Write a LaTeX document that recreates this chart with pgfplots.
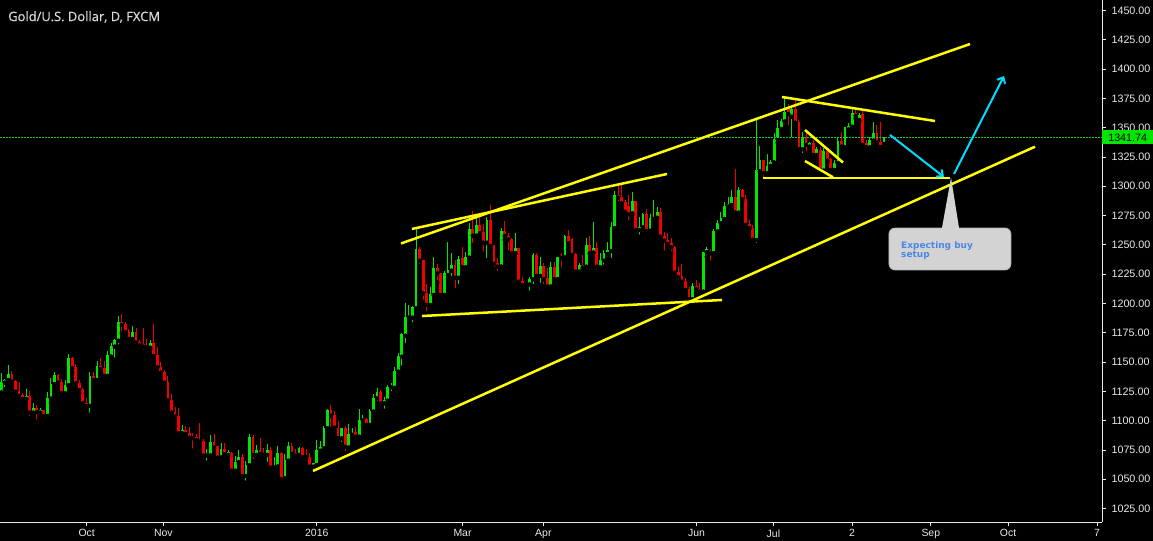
\documentclass[border=0pt]{standalone}
\usepackage{pgfplots}
\pgfplotsset{compat=1.18}
\usepackage{pgfplotstable}
\usetikzlibrary{arrows.meta}
\usepackage{fontspec}
\setmainfont{Liberation Sans}
\newfontfamily\titlefont[FakeBold=0.5]{Open Sans}
\newfontfamily\boxfont{DejaVu Sans}
\definecolor{cgreen}{RGB}{0,230,0}
\definecolor{cred}{RGB}{240,0,0}
\definecolor{cyel}{RGB}{255,255,0}
\definecolor{ccyan}{RGB}{0,220,255}
\definecolor{cbox}{RGB}{211,211,211}
\definecolor{cboxtext}{RGB}{74,134,232}
\definecolor{cdot}{RGB}{30,200,30}
\definecolor{caxis}{RGB}{232,232,232}

\pgfplotsset{
  frame/.style={
    at={(0bp,19bp)}, anchor=south west,
    scale only axis, width=1102bp, height=522bp,
    xmin=0.633, xmax=311.49, ymin=1013.56, ymax=1458.96,
    clip=false,
  }
}

\pgfplotstableread{
n o h l c
1 1123.9 1140.4 1123.9 1133.3
2 1132.5 1135.3 1126.8 1134.7
3 1134.7 1147.5 1133.3 1139.9
8 1118.5 1127.1 1118.5 1121.1
10 1106.9 1114.8 1104.0 1111.1
12 1106.9 1111.1 1104.9 1109.1
14 1104.0 1124.5 1104.0 1119.4
15 1118.8 1136.2 1115.4 1131.3
16 1131.3 1141.9 1128.5 1139.0
19 1123.4 1134.7 1121.9 1130.2
20 1130.2 1156.9 1129.6 1153.5
26 1112.6 1141.6 1105.2 1138.2
28 1134.7 1150.7 1134.7 1146.7
31 1138.2 1159.8 1138.2 1156.1
32 1154.7 1166.0 1151.8 1163.8
33 1163.2 1169.5 1152.0 1168.9
34 1168.3 1189.3 1163.2 1183.9
38 1169.7 1180.8 1167.5 1175.4
43 1162.3 1168.9 1160.9 1166.6
52 1089.2 1096.4 1089.2 1092.1
59 1070.2 1075.9 1064.2 1070.8
60 1070.2 1087.8 1070.2 1081.6
63 1068.5 1080.7 1068.5 1075.9
65 1070.8 1075.0 1069.3 1073.0
67 1057.4 1069.9 1054.3 1064.5
68 1064.5 1075.0 1063.1 1068.8
70 1052.8 1065.4 1047.1 1061.9
71 1061.9 1088.7 1059.4 1086.1
73 1070.8 1079.3 1068.5 1075.0
76 1070.8 1080.1 1063.1 1075.0
78 1059.9 1068.8 1058.8 1061.4
79 1060.8 1078.4 1060.8 1072.2
81 1050.6 1071.6 1050.6 1066.5
82 1065.9 1082.1 1063.6 1078.4
85 1070.8 1077.9 1069.3 1076.4
89 1060.8 1064.2 1057.9 1063.6
90 1062.2 1083.6 1062.2 1075.0
91 1074.4 1082.9 1073.5 1077.2
92 1076.4 1095.4 1075.5 1094.0
93 1093.5 1110.0 1092.0 1109.1
97 1084.9 1094.0 1080.1 1094.0
99 1077.2 1096.9 1076.4 1088.3
100 1087.8 1094.0 1086.9 1089.2
102 1086.3 1110.0 1086.3 1100.6
103 1100.0 1104.8 1096.3 1101.4
105 1096.3 1109.7 1096.3 1108.5
106 1107.7 1122.7 1107.7 1119.6
107 1119.0 1127.6 1115.4 1124.7
109 1114.8 1119.9 1108.5 1117.6
110 1117.1 1130.4 1115.6 1129.0
111 1128.4 1131.8 1123.3 1129.6
112 1128.1 1146.1 1124.7 1142.4
113 1141.8 1157.4 1141.8 1155.5
114 1154.6 1174.5 1145.2 1173.7
115 1172.5 1200.7 1164.6 1188.7
116 1187.9 1198.7 1185.9 1188.9
117 1187.9 1197.8 1182.2 1197.3
118 1195.8 1263.2 1195.3 1246.5
122 1198.7 1213.8 1195.0 1208.1
123 1207.2 1239.4 1207.2 1230.3
126 1207.2 1227.7 1207.2 1225.7
127 1224.3 1252.8 1220.6 1228.6
128 1228.0 1243.4 1221.5 1232.8
130 1222.0 1240.5 1214.9 1238.0
132 1230.9 1244.2 1229.1 1239.4
133 1239.1 1269.0 1237.1 1263.6
135 1257.9 1272.7 1257.0 1267.0
138 1251.9 1274.1 1237.1 1271.2
142 1231.4 1264.1 1231.4 1262.1
146 1242.8 1260.4 1242.8 1247.1
149 1215.8 1217.8 1214.4 1217.2
150 1216.3 1222.9 1209.2 1220.6
151 1220.6 1242.8 1214.9 1241.4
153 1223.5 1239.4 1215.8 1232.0
156 1214.4 1235.7 1214.4 1230.9
158 1220.6 1240.0 1220.6 1239.4
160 1239.1 1258.4 1239.1 1257.9
164 1227.2 1234.3 1225.7 1232.8
166 1231.4 1255.6 1227.7 1249.9
168 1243.4 1269.8 1243.4 1247.6
170 1230.9 1242.8 1229.1 1237.1
171 1236.5 1245.6 1231.4 1242.8
172 1242.2 1252.8 1238.5 1245.6
173 1244.8 1269.8 1237.1 1265.0
174 1264.1 1296.3 1264.1 1292.6
179 1276.9 1295.4 1275.5 1287.4
181 1262.7 1274.1 1257.0 1265.0
182 1265.0 1277.5 1264.1 1276.4
184 1262.1 1276.4 1261.3 1272.7
185 1272.1 1288.3 1270.7 1274.1
186 1273.2 1282.0 1272.7 1278.3
196 1203.6 1217.2 1203.0 1214.9
199 1210.1 1244.3 1208.2 1243.7
200 1243.7 1248.5 1240.0 1246.3
202 1242.8 1263.3 1242.8 1261.9
203 1261.3 1271.3 1261.3 1268.4
204 1268.4 1278.4 1267.9 1272.7
205 1272.1 1286.9 1271.3 1283.2
206 1282.7 1291.2 1282.1 1284.6
207 1284.1 1296.9 1282.7 1290.6
209 1277.5 1299.2 1276.4 1296.9
214 1254.2 1357.2 1249.9 1313.9
215 1312.5 1334.4 1312.5 1322.5
217 1311.1 1327.6 1310.5 1317.4
218 1317.4 1322.5 1316.2 1321.1
219 1320.2 1345.2 1320.2 1340.1
220 1340.1 1356.6 1337.3 1349.5
221 1348.9 1357.2 1346.6 1355.8
222 1355.2 1375.1 1355.2 1363.7
224 1359.4 1368.0 1340.0 1366.0
227 1331.6 1346.6 1326.7 1342.4
229 1333.9 1338.1 1331.6 1337.3
231 1326.7 1333.9 1325.3 1331.6
233 1313.4 1332.4 1312.5 1330.4
236 1313.9 1322.5 1313.4 1320.2
237 1319.6 1341.0 1319.1 1339.0
239 1333.3 1350.9 1332.4 1350.3
240 1348.6 1353.8 1347.2 1351.5
241 1350.9 1366.6 1350.3 1362.9
243 1356.6 1362.3 1355.2 1360.9
246 1333.3 1342.4 1331.6 1339.5
247 1339.0 1355.2 1338.1 1345.2
250 1336.1 1342.4 1335.3 1341.7
}\up

\pgfplotstableread{
n o h l c
4 1139.9 1142.4 1132.5 1133.3
5 1134.2 1134.7 1121.9 1124.8
6 1125.4 1133.3 1119.1 1121.1
7 1121.9 1123.9 1116.3 1118.5
9 1121.1 1125.4 1101.8 1106.9
11 1111.1 1113.4 1099.2 1107.2
13 1109.1 1109.1 1102.6 1104.0
17 1139.0 1139.9 1130.5 1132.5
18 1133.0 1135.9 1121.4 1123.4
21 1153.8 1154.4 1141.0 1144.7
22 1145.8 1148.1 1130.5 1131.9
23 1131.9 1134.7 1123.4 1126.2
24 1127.1 1127.6 1112.0 1114.8
25 1115.4 1119.1 1111.4 1112.6
27 1138.2 1141.6 1131.0 1134.7
29 1146.7 1153.2 1141.3 1144.1
30 1144.7 1151.0 1137.0 1138.2
35 1183.9 1191.1 1174.6 1181.7
36 1182.2 1183.9 1174.6 1175.4
37 1176.6 1178.3 1168.9 1169.7
39 1175.4 1179.1 1163.2 1166.6
40 1167.5 1168.9 1161.8 1164.3
41 1165.5 1179.1 1158.9 1163.2
42 1163.8 1169.4 1162.3 1162.3
44 1166.6 1182.5 1152.4 1155.2
45 1155.8 1163.2 1145.3 1145.3
46 1145.8 1150.1 1139.9 1141.0
47 1141.9 1143.3 1131.9 1132.5
48 1133.0 1138.2 1114.8 1117.1
49 1117.7 1122.5 1106.3 1106.9
50 1107.4 1111.4 1102.9 1103.5
51 1104.0 1110.9 1086.4 1089.2
53 1092.1 1095.5 1085.8 1088.7
54 1089.2 1094.4 1085.0 1085.5
55 1086.4 1089.8 1074.4 1085.0
56 1085.8 1088.4 1080.1 1083.6
57 1083.6 1097.8 1082.1 1082.1
58 1082.7 1084.1 1065.9 1070.2
61 1081.6 1088.7 1076.4 1077.0
62 1078.7 1078.7 1067.1 1068.5
64 1075.9 1080.7 1069.9 1071.3
66 1072.2 1073.6 1053.1 1057.4
69 1068.8 1071.6 1051.4 1052.8
72 1086.1 1087.8 1065.6 1070.8
74 1075.0 1085.0 1069.9 1071.6
75 1072.7 1076.4 1070.2 1070.8
77 1075.0 1077.9 1058.5 1059.9
80 1072.2 1073.6 1048.0 1050.0
83 1078.4 1080.7 1069.3 1071.6
84 1072.7 1075.9 1068.8 1070.2
86 1077.0 1077.9 1067.1 1068.8
87 1069.3 1075.9 1068.2 1068.8
88 1068.8 1072.2 1059.4 1060.8
94 1109.1 1113.4 1092.9 1104.3
95 1104.8 1108.2 1092.9 1094.0
96 1094.0 1099.7 1084.9 1084.9
98 1094.0 1095.7 1072.1 1077.8
101 1090.0 1094.3 1082.9 1086.3
104 1101.4 1102.6 1094.3 1096.3
108 1124.7 1126.2 1110.5 1114.8
119 1246.5 1247.9 1232.0 1236.5
120 1237.1 1237.1 1201.5 1208.6
121 1208.6 1216.6 1191.6 1198.7
124 1230.3 1233.7 1218.1 1225.7
125 1225.7 1226.3 1207.2 1207.2
129 1232.8 1237.1 1211.5 1222.0
131 1238.5 1247.9 1227.2 1230.9
134 1263.6 1278.9 1249.9 1257.9
136 1267.0 1276.9 1257.9 1259.9
137 1261.3 1267.5 1242.8 1251.9
139 1271.2 1284.0 1248.5 1249.1
140 1249.9 1249.9 1229.1 1233.7
141 1234.3 1238.5 1225.7 1231.4
143 1262.1 1270.4 1254.2 1257.6
144 1257.6 1259.9 1243.4 1254.7
145 1255.0 1255.6 1241.4 1242.8
147 1247.1 1247.6 1214.9 1218.6
148 1219.2 1222.9 1212.1 1215.8
152 1241.4 1243.4 1222.9 1223.5
154 1232.0 1234.3 1214.9 1220.6
155 1221.5 1230.0 1214.4 1214.4
157 1231.4 1235.7 1217.2 1220.6
159 1240.0 1242.8 1229.1 1238.5
161 1257.9 1262.7 1249.9 1251.3
162 1255.0 1255.6 1240.5 1241.4
163 1242.2 1242.8 1223.5 1227.2
165 1232.8 1241.4 1229.4 1230.6
167 1249.9 1257.6 1242.8 1242.8
169 1247.6 1252.8 1227.2 1231.4
175 1292.6 1302.5 1285.5 1290.3
176 1290.6 1301.1 1282.0 1285.5
177 1286.3 1288.3 1274.9 1278.3
178 1283.2 1292.6 1269.0 1276.1
180 1287.4 1287.4 1260.7 1262.7
183 1276.4 1280.3 1260.4 1261.9
187 1278.3 1281.2 1255.6 1257.0
188 1257.6 1261.3 1243.4 1253.6
189 1254.2 1260.4 1248.5 1250.8
190 1251.9 1255.6 1242.8 1247.9
191 1248.5 1249.1 1225.7 1226.3
192 1227.2 1231.4 1217.8 1222.3
193 1223.5 1233.7 1217.2 1218.6
194 1219.2 1221.5 1209.2 1211.5
195 1212.1 1214.4 1200.1 1203.6
197 1214.9 1220.0 1209.2 1212.1
198 1212.1 1217.8 1208.7 1210.1
201 1245.1 1246.3 1234.9 1242.8
208 1290.6 1314.8 1277.5 1277.5
210 1296.9 1297.4 1287.5 1288.9
211 1288.9 1292.6 1267.0 1267.0
212 1267.9 1271.3 1263.3 1264.2
213 1264.2 1267.0 1254.2 1254.2
216 1322.5 1322.5 1304.8 1311.1
223 1366.6 1370.3 1350.1 1361.7
225 1366.0 1374.5 1353.8 1354.3
226 1355.2 1356.6 1329.6 1331.6
228 1342.4 1347.5 1328.2 1335.3
230 1337.3 1339.5 1325.9 1326.7
232 1331.0 1333.9 1312.5 1313.9
234 1330.4 1332.4 1320.2 1321.9
235 1323.0 1323.9 1311.7 1313.9
238 1339.0 1346.6 1333.3 1333.9
242 1362.9 1365.1 1358.0 1360.0
244 1361.7 1365.1 1335.3 1335.3
245 1336.7 1339.5 1329.6 1333.3
248 1345.2 1352.3 1336.1 1337.3
249 1338.1 1355.2 1333.3 1333.3
}\down

\begin{document}
\begin{tikzpicture}
\fill[black] (0,0) rectangle (1153bp,541bp);
\path[use as bounding box] (0,0) rectangle (1153bp,541bp);
\begin{axis}[
  frame,
  axis x line=bottom, axis y line=right,
  axis line style={-, draw=caxis, line width=0.8bp},
  xtick={25.1,46.7,90.0,131.1,153.9,197.1,218.8,241.0,263.2,285.0,310.1},
  xticklabels={Oct,Nov,2016,Mar,Apr,Jun,Jul,2,Sep,Oct,7},
  ytick={1025,1050,...,1450},
  scaled y ticks=false,
  tick align=outside, major tick length=4bp,
  tick style={draw=caxis, line width=0.8bp},
  ticklabel style={font=\fontsize{10.5}{12}\selectfont, text=caxis},
  yticklabel style={xshift=2bp, font=\fontsize{10.8}{12}\selectfont, /pgf/number format/fixed, /pgf/number format/fixed zerofill, /pgf/number format/precision=2, /pgf/number format/1000 sep={}},
  /pgf/number format/assume math mode=true,
]
% wicks
\addplot[only marks, mark=none, forget plot, error bars/.cd, y dir=plus, y explicit, error mark=none, error bar style={line width=1bp, draw=cgreen}]
  table[x=n, y=l, y error expr=\thisrow{h}-\thisrow{l}] {\up};
\addplot[only marks, mark=none, forget plot, error bars/.cd, y dir=plus, y explicit, error mark=none, error bar style={line width=1bp, draw=cred}]
  table[x=n, y=l, y error expr=\thisrow{h}-\thisrow{l}] {\down};
% bodies
\addplot[only marks, mark=none, forget plot, error bars/.cd, y dir=plus, y explicit, error mark=none, error bar style={line width=2.8bp, draw=cgreen}]
  table[x=n, y=o, y error expr=\thisrow{c}-\thisrow{o}] {\up};
\addplot[only marks, mark=none, forget plot, error bars/.cd, y dir=plus, y explicit, error mark=none, error bar style={line width=2.8bp, draw=cred}]
  table[x=n, y=c, y error expr=\thisrow{o}-\thisrow{c}] {\down};
% price tag
\node[fill=cgreen, text=black, anchor=west, inner sep=0pt, minimum width=51bp, minimum height=14bp, font=\fontsize{10.8}{12}\selectfont] at (axis cs:311.49,1341.74) {1341.74};
% title
\node[anchor=west, inner sep=0pt, text=white!85!black, font=\titlefont\fontsize{13}{15}\selectfont] at ([xshift=8bp,yshift=-17bp]rel axis cs:0,1) {Gold/U.S. Dollar, D, FXCM};
\end{axis}
\begin{axis}[frame, hide axis]
% current price line
\addplot[cdot, line width=0.8bp, dash pattern=on 1.5bp off 1.5bp] coordinates {(0.633,1341.74) (311.49,1341.74)};
% yellow trend lines
\addplot[cyel, line width=2.5bp] coordinates {(113.75,1251.2) (274.26,1421.4)};
\addplot[cyel, line width=2.5bp] coordinates {(116.85,1263.6) (188.78,1310.5)};
\addplot[cyel, line width=2.5bp] coordinates {(119.67,1189.3) (204.30,1203.0)};
\addplot[cyel, line width=2.5bp] coordinates {(88.93,1057.1) (292.6,1333.8)};
\addplot[cyel, line width=2.5bp] coordinates {(221.23,1376.2) (264.39,1355.7)};
\addplot[cyel, line width=2.5bp] coordinates {(215.87,1307.1) (268.62,1307.1)};
\addplot[cyel, line width=2.5bp] coordinates {(227.71,1348.0) (238.43,1320.3)};
\addplot[cyel, line width=2.5bp] coordinates {(227.71,1321.6) (235.61,1307.7)};
% cyan arrows
\addplot[ccyan, line width=2bp, -{Straight Barb[length=5bp,width=9bp]}] coordinates {(251.69,1343.8) (266.92,1307.9)};
\addplot[ccyan, line width=2bp, -{Straight Barb[length=5bp,width=9bp]}] coordinates {(269.74,1310.5) (283.85,1394.1)};
% annotation
\filldraw[fill=cbox, draw=gray!60, line width=0.8bp, rounded corners=6bp] (axis cs:251.4,1264.4) rectangle (axis cs:285.8,1228.6);
\fill[cbox] (axis cs:266.3,1263.6) -- (axis cs:268.9,1307.5) -- (axis cs:271.2,1263.6) -- cycle;
\node[anchor=north west, inner sep=0pt, align=left, text=cboxtext, font=\boxfont\bfseries\fontsize{9}{9.5}\selectfont] at (axis cs:254.8,1253.3) {Expecting buy\\setup};
\end{axis}
\end{tikzpicture}
\end{document}
